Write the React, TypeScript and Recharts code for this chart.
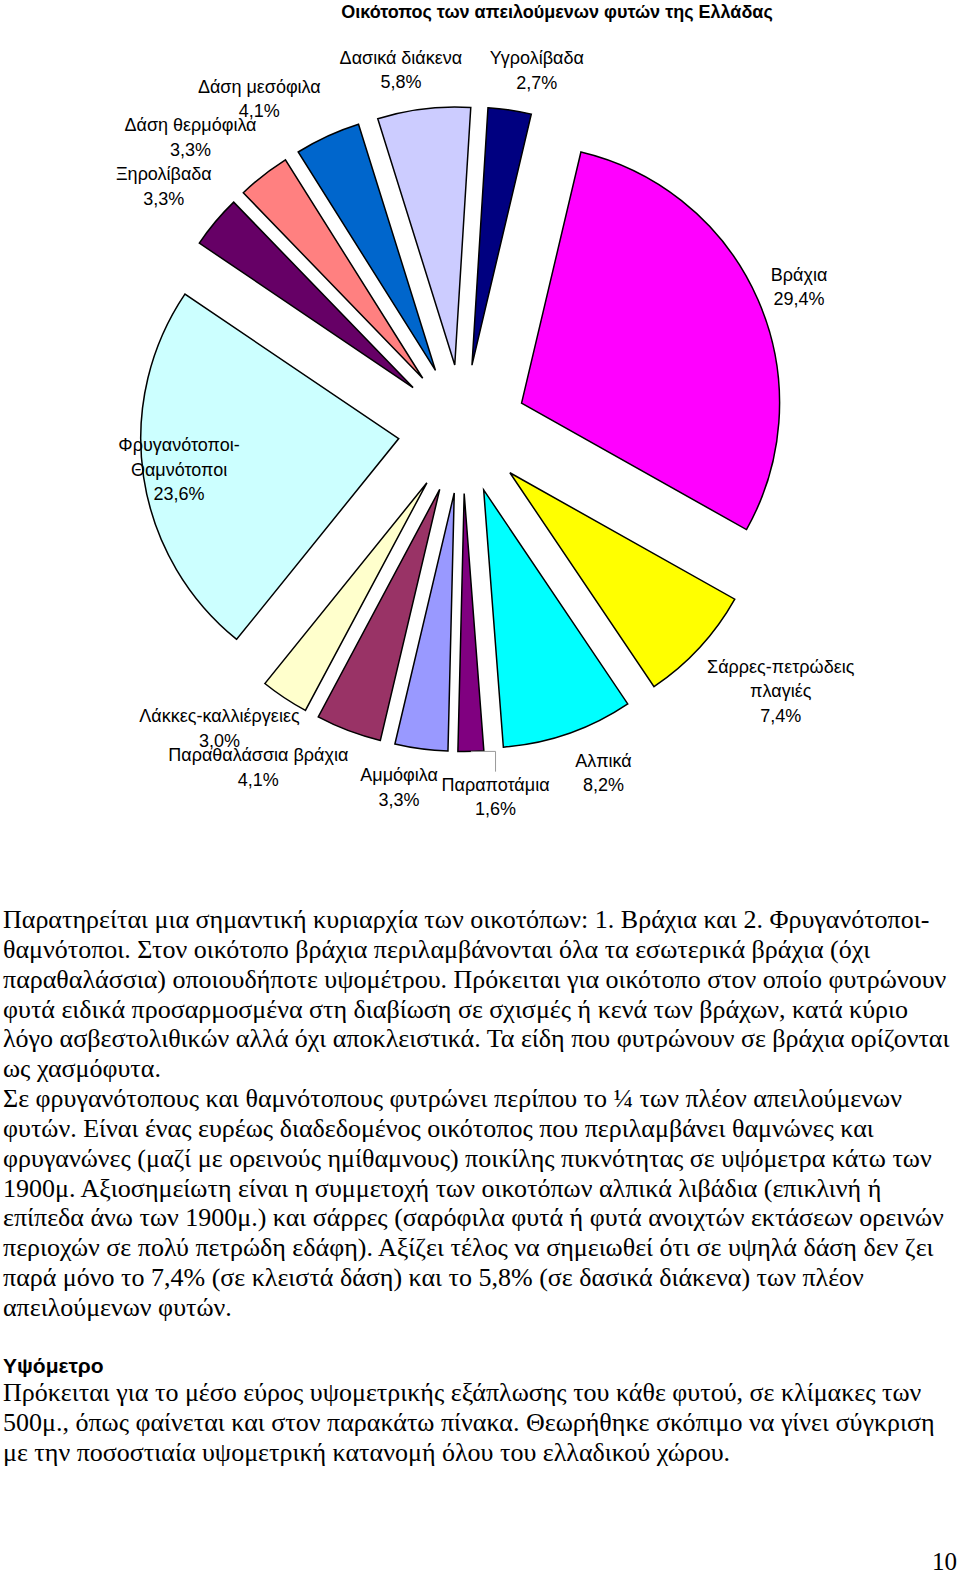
import React from "react";
import { PieChart, Pie, Cell } from "recharts";

// Οικότοπος των απειλούμενων φυτών - ποσοστά ανά οικότοπο (δεξιόστροφα από Βράχια)
const habitats = [
  "Βράχια",
  "Σάρρες-πετρώδεις\nπλαγιές",
  "Αλπικά",
  "Παραποτάμια",
  "Αμμόφιλα",
  "Παραθαλάσσια βράχια",
  "Λάκκες-καλλιέργειες",
  "Φρυγανότοποι-\nΘαμνότοποι",
  "Ξηρολίβαδα",
  "Δάση θερμόφιλα",
  "Δάση μεσόφιλα",
  "Δασικά διάκενα",
  "Υγρολίβαδα",
];
const shares = [29.4, 7.4, 8.2, 1.6, 3.3, 4.1, 3.0, 23.6, 3.3, 3.3, 4.1, 5.8, 2.7];

const colors = [
  "#FF00FF",
  "#FFFF00",
  "#00FFFF",
  "#800080",
  "#9999FF",
  "#993366",
  "#FFFFCC",
  "#CCFFFF",
  "#660066",
  "#FF8080",
  "#0066CC",
  "#CCCCFF",
  "#000080",
];

// label nudges (px) away from the radial anchor
const labelNudge: [number, number][] = [
  [0, 2],
  [48, 10],
  [20, -6],
  [23, -2],
  [-17, -9],
  [-75, -8],
  [-41, -10],
  [79, -17],
  [-18, -10],
  [-46, -6],
  [-50, 0],
  [-18, 2],
  [20, 1],
];

const paragraph1 = [
  "Παρατηρείται μια σημαντική κυριαρχία των οικοτόπων: 1. Βράχια και 2. Φρυγανότοποι-",
  "θαμνότοποι. Στον οικότοπο βράχια περιλαμβάνονται όλα τα εσωτερικά βράχια (όχι",
  "παραθαλάσσια) οποιουδήποτε υψομέτρου. Πρόκειται για οικότοπο στον οποίο φυτρώνουν",
  "φυτά ειδικά προσαρμοσμένα στη διαβίωση σε σχισμές ή κενά των βράχων, κατά κύριο",
  "λόγο ασβεστολιθικών αλλά όχι αποκλειστικά. Τα είδη που φυτρώνουν σε βράχια ορίζονται",
  "ως χασμόφυτα.",
  "Σε φρυγανότοπους και θαμνότοπους φυτρώνει περίπου το ¼ των πλέον απειλούμενων",
  "φυτών. Είναι ένας ευρέως διαδεδομένος οικότοπος που περιλαμβάνει θαμνώνες και",
  "φρυγανώνες (μαζί με ορεινούς ημίθαμνους) ποικίλης πυκνότητας σε υψόμετρα κάτω των",
  "1900μ. Αξιοσημείωτη είναι η συμμετοχή των οικοτόπων αλπικά λιβάδια (επικλινή ή",
  "επίπεδα άνω των 1900μ.) και σάρρες (σαρόφιλα φυτά ή φυτά ανοιχτών εκτάσεων ορεινών",
  "περιοχών σε πολύ πετρώδη εδάφη). Αξίζει τέλος να σημειωθεί ότι σε υψηλά δάση δεν ζει",
  "παρά μόνο το 7,4% (σε κλειστά δάση) και το 5,8% (σε δασικά διάκενα) των πλέον",
  "απειλούμενων φυτών.",
];
const paragraph2 = [
  "Πρόκειται για το μέσο εύρος υψομετρικής εξάπλωσης του κάθε φυτού, σε κλίμακες των",
  "500μ., όπως φαίνεται και στον παρακάτω πίνακα. Θεωρήθηκε σκόπιμο να γίνει σύγκριση",
  "με την ποσοστιαία υψομετρική κατανομή όλου του ελλαδικού χώρου.",
];

const CX = 462.5;
const CY = 429;
const RADIUS = 258;
const EXPLODE = 64.5;
const START = 76.7;
const LINE = 24.5;
const LABEL_SIZE = 18;
const LABEL_GAP = 44.5;
const SANS = "'Liberation Sans', Arial, sans-serif";
const SERIF = "'Liberation Serif', 'Times New Roman', serif";

const total = shares.reduce((a, b) => a + b, 0);
const fmt = (v: number) => v.toFixed(1).replace(".", ",") + "%";

const slices = shares.map((v, i) => {
  const before = shares.slice(0, i).reduce((a, b) => a + b, 0);
  const mid = ((START - ((before + v / 2) / total) * 360) * Math.PI) / 180;
  return {
    i,
    data: [
      { name: "pre", value: before },
      { name: habitats[i], value: v },
      { name: "post", value: total - before - v },
    ],
    cx: CX + EXPLODE * Math.cos(mid),
    cy: CY - EXPLODE * Math.sin(mid),
  };
});

const makeLabel = (i: number) => (props: any) => {
  if (props.index !== 1) return null;
  const { cx, cy, midAngle, outerRadius } = props;
  const rad = (-midAngle * Math.PI) / 180;
  const r = outerRadius + LABEL_GAP;
  const x = cx + r * Math.cos(rad) + labelNudge[i][0] + 0.5;
  const yc = cy + r * Math.sin(rad) + labelNudge[i][1] + 3;
  const lines = [...habitats[i].split("\n"), fmt(shares[i])];
  const y0 = yc - ((lines.length - 1) * LINE) / 2;
  let leader = null;
  if (habitats[i] === "Παραποτάμια") {
    const ox = cx + outerRadius * Math.cos(rad);
    const oy = cy + outerRadius * Math.sin(rad);
    leader = (
      <polyline
        points={`${ox},${oy} ${x},${oy} ${x},${y0 - 13}`}
        fill="none"
        stroke="#999"
        strokeWidth={1}
      />
    );
  }
  return (
    <g key={`lbl-${i}`}>
      {leader}
      <text textAnchor="middle" fontFamily={SANS} fontSize={LABEL_SIZE} fill="#000">
        {lines.map((t, k) => (
          <tspan key={k} x={x} y={y0 + k * LINE + LABEL_SIZE * 0.35}>
            {t}
          </tspan>
        ))}
      </text>
    </g>
  );
};

const bodyText: React.CSSProperties = {
  position: "absolute",
  left: 3,
  fontFamily: SERIF,
  fontSize: 26,
  lineHeight: "29.85px",
  color: "#000",
  whiteSpace: "pre",
};

export default function App() {
  return (
    <div
      style={{
        position: "absolute",
        left: 0,
        top: 0,
        width: 960,
        height: 1575,
        background: "#fff",
        overflow: "hidden",
      }}
    >
      <div
        style={{
          position: "absolute",
          left: 0,
          width: 1114,
          top: 1,
          textAlign: "center",
          fontFamily: SANS,
          fontWeight: "bold",
          fontSize: 18,
          lineHeight: "22px",
          color: "#000",
        }}
      >
        Οικότοπος των απειλούμενων φυτών της Ελλάδας
      </div>
      <div style={{ position: "absolute", left: 0, top: 0 }}>
        <PieChart width={960} height={840} margin={{ top: 0, right: 0, bottom: 0, left: 0 }}>
          {slices.map((s) => (
            <Pie
              key={s.i}
              data={s.data}
              dataKey="value"
              cx={s.cx}
              cy={s.cy}
              outerRadius={RADIUS}
              innerRadius={0}
              startAngle={START}
              endAngle={START - 360}
              isAnimationActive={false}
              labelLine={false}
              label={makeLabel(s.i)}
            >
              {s.data.map((d, k) => (
                <Cell
                  key={k}
                  fill={k === 1 ? colors[s.i] : "none"}
                  stroke={k === 1 ? "#000" : "none"}
                  strokeWidth={k === 1 ? 1.5 : 0}
                />
              ))}
            </Pie>
          ))}
        </PieChart>
      </div>
      <div style={{ ...bodyText, top: 905 }}>
        {paragraph1.map((l, k) => (
          <div key={k}>{l}</div>
        ))}
      </div>
      <div
        style={{
          position: "absolute",
          left: 3,
          top: 1353,
          fontFamily: SANS,
          fontWeight: "bold",
          fontSize: 21,
          lineHeight: "26px",
          color: "#000",
        }}
      >
        Υψόμετρο
      </div>
      <div style={{ ...bodyText, top: 1378 }}>
        {paragraph2.map((l, k) => (
          <div key={k}>{l}</div>
        ))}
      </div>
      <div
        style={{
          position: "absolute",
          left: 932,
          top: 1549,
          fontFamily: SERIF,
          fontSize: 25,
          lineHeight: "25px",
          color: "#000",
        }}
      >
        10
      </div>
    </div>
  );
}
